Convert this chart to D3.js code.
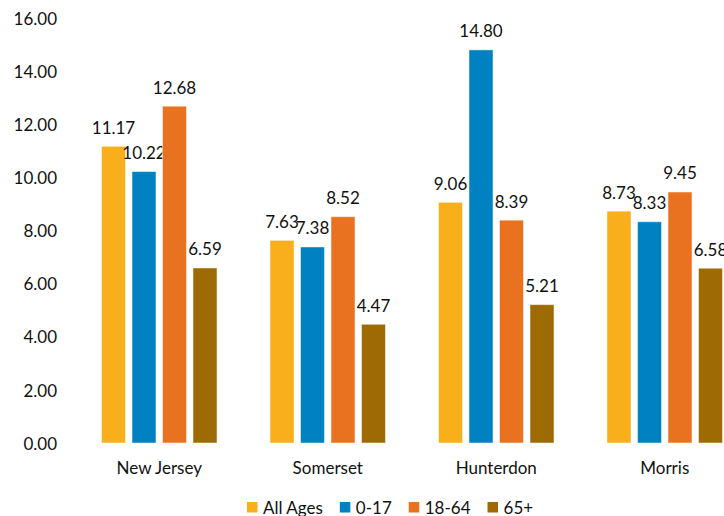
<!DOCTYPE html>
<html><head><meta charset="utf-8">
<script src="https://cdn.jsdelivr.net/npm/d3@7"></script>
<style>html,body{margin:0;padding:0;background:#fff;overflow:hidden}text{font-family:Lato,"Open Sans",sans-serif;fill:#111}</style>
</head><body><svg id="c" width="724" height="516"></svg>
<script>
const categories = ["New Jersey", "Somerset", "Hunterdon", "Morris"];
const seriesNames = ["All Ages", "0-17", "18-64", "65+"];
const allAges = [11.17, 7.63, 9.06, 8.73];
const age0to17 = [10.22, 7.38, 14.80, 8.33];
const age18to64 = [12.68, 8.52, 8.39, 9.45];
const age65plus = [6.59, 4.47, 5.21, 6.58];
const yTicks = [0, 2, 4, 6, 8, 10, 12, 14, 16];
const colors = ["#F9AE1B", "#0081C1", "#E8721F", "#9D6A03"];

const seriesValues = [allAges, age0to17, age18to64, age65plus];
const svg = d3.select("#c");
const x = d3.scaleBand().domain(categories).range([75, 749]).padding(0);
const xi = d3.scaleBand().domain(seriesNames).range([-57.75, 57.75]).paddingInner(0.213).paddingOuter(0);
const y = d3.scaleLinear().domain([0, 16]).range([443, 18]);

// y axis labels
const yAxis = d3.axisLeft(y).tickValues(yTicks).tickFormat(d3.format(".2f")).tickSize(0).tickPadding(0);
const ya = svg.append("g").attr("transform", "translate(57,0)").call(yAxis);
ya.select(".domain").remove();
ya.selectAll("text").attr("font-size", 17).attr("font-family", "Lato").attr("fill", "#111").attr("dy", "0.36em");

// x axis labels
const xAxis = d3.axisBottom(x).tickSize(0).tickPadding(0);
const xa = svg.append("g").attr("transform", "translate(0,462)").call(xAxis);
xa.select(".domain").remove();
xa.selectAll("text").attr("font-size", 17).attr("font-family", "Lato").attr("fill", "#111").attr("dy", "0.71em");

// bars
categories.forEach((c, ci) => {
  const g = svg.append("g").attr("transform", `translate(${x(c) + x.bandwidth() / 2},0)`);
  seriesNames.forEach((s, si) => {
    const v = seriesValues[si][ci];
    g.append("rect")
      .attr("x", xi(s)).attr("width", xi.bandwidth())
      .attr("y", y(v)).attr("height", y(0) - y(v))
      .attr("fill", colors[si])
      .attr("stroke", "rgba(255,255,255,0.5)").attr("stroke-width", 1);
    g.append("text")
      .attr("x", xi(s) + xi.bandwidth() / 2).attr("y", y(v) - 12.5)
      .attr("text-anchor", "middle").attr("font-size", 17)
      .text(d3.format(".2f")(v));
  });
});

// legend
const leg = svg.append("g").attr("transform", "translate(247,0)");
let lx = 0;
seriesNames.forEach((s, si) => {
  leg.append("rect").attr("x", lx).attr("y", 502).attr("width", 10.5).attr("height", 10.5).attr("fill", colors[si]);
  const t = leg.append("text").attr("x", lx + 16).attr("y", 514).attr("font-size", 17).text(s);
  lx += 16 + t.node().getComputedTextLength() + 17;
});
</script></body></html>
